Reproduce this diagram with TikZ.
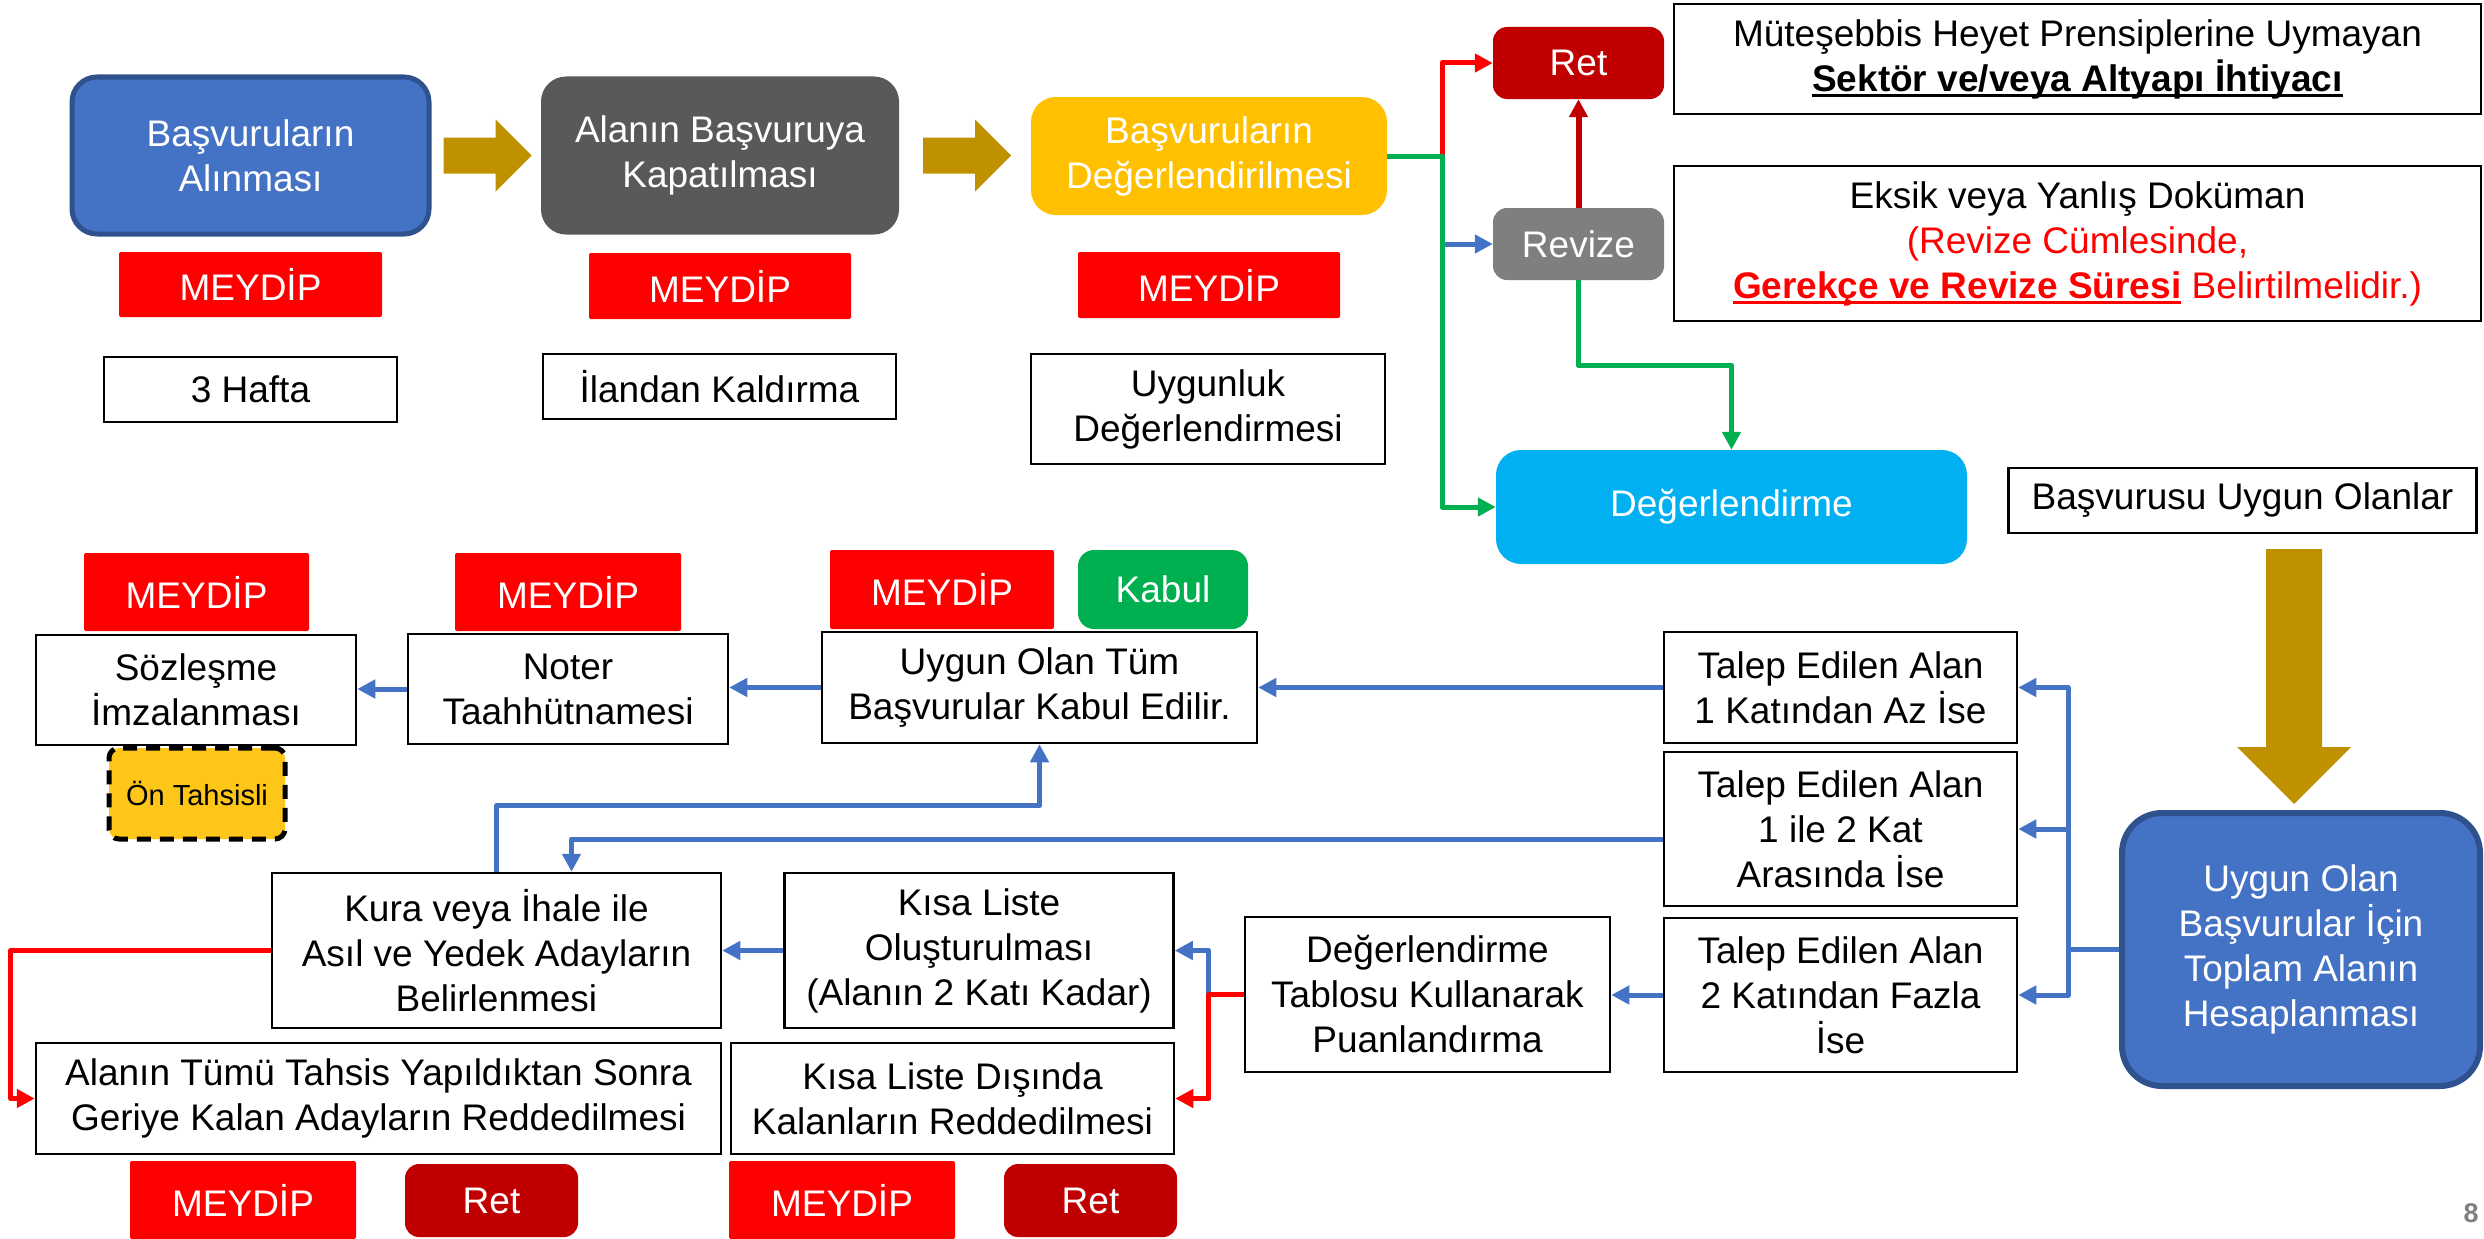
\documentclass[tikz,border=0pt]{standalone}
\usepackage{fontspec}
\setmainfont{Liberation Sans}
\usetikzlibrary{arrows.meta,calc}
\definecolor{pblue}{HTML}{4472C4}
\definecolor{pblueborder}{HTML}{2F528F}
\definecolor{pdgray}{HTML}{595959}
\definecolor{pgold}{HTML}{FFC000}
\definecolor{pred}{HTML}{FF0000}
\definecolor{pdred}{HTML}{C00000}
\definecolor{pgray}{HTML}{7F7F7F}
\definecolor{pcyan}{HTML}{00B0F0}
\definecolor{pgreen}{HTML}{00B050}
\definecolor{parrow}{HTML}{BF9000}
\definecolor{pyellow}{HTML}{FFC61A}
\newcommand\myul[1]{\setbox0\hbox{#1}\rlap{\rule[-6pt]{\wd0}{3pt}}\box0\relax}
\tikzset{
  sz/.style 2 args={minimum width=#1pt, minimum height=#2pt},
  base/.style={inner sep=0pt, align=center, font=\fontsize{37}{45}\selectfont},
  wbox/.style={base, draw=black, line width=2.5pt, fill=white},
  bigblue/.style={base, fill=pblue, draw=pblueborder, line width=5pt, rounded corners=25pt, text=white},
  darkbox/.style={base, fill=pdgray, rounded corners=25pt, text=white},
  goldbox/.style={base, fill=pgold, rounded corners=25pt, text=white},
  meydip/.style={base, fill=pred, rounded corners=2pt, text=white},
  retbox/.style={base, fill=pdred, rounded corners=14pt, text=white},
  revbox/.style={base, fill=pgray, rounded corners=14pt, text=white},
  kabulbox/.style={base, fill=pgreen, rounded corners=16pt, text=white},
  cyanbox/.style={base, fill=pcyan, rounded corners=25pt, text=white},
  onbox/.style={inner sep=0pt, align=center, font=\fontsize{29}{34}\selectfont, fill=pyellow, draw=black, line width=5pt, dash pattern=on 14pt off 9pt, rounded corners=10pt},
  arr/.style={-{Triangle[length=18pt,width=18pt]}},
  bl/.style={draw=pblue, line width=5pt, line join=round},
  gr/.style={draw=pgreen, line width=5pt, line join=round},
  rd/.style={draw=pred, line width=5pt, line join=round},
  drd/.style={draw=pdred, line width=6pt},
  blockarrow/.style={fill=parrow}
}
\begin{document}
\begin{tikzpicture}[x=1pt,y=-1pt]
\fill[white] (0,0) rectangle (2484,1239);
\useasboundingbox (0,0) rectangle (2484,1239);

% ---------- top row ----------
\node[bigblue, sz={357}{157}] (b1) at (250.5,155.5) {Başvuruların\\Alınması};
\node[darkbox, sz={358}{158}] (b2) at (720,155.5) {Alanın Başvuruya\\Kapatılması};
\node[goldbox, sz={356}{118}] (b3) at (1209,156) {Başvuruların\\Değerlendirilmesi};

\node[meydip, sz={263}{65}] (m1) at (250.5,284.5) {MEYDİP};
\node[meydip, sz={262}{66}] (m2) at (720,286) {MEYDİP};
\node[meydip, sz={262}{66}] (m3) at (1209,285) {MEYDİP};

\node[wbox, sz={293}{65}] (t1) at (250.5,389.5) {3 Hafta};
\node[wbox, sz={353}{65}] (t2) at (719.5,386.5) {İlandan Kaldırma};
\node[wbox, sz={354}{110}] (t3) at (1208,409) {Uygunluk\\Değerlendirmesi};

% gold block arrows
\fill[blockarrow] ($(b1.east)+(12,0)$) ++(0,-18) -- ++(52,0) -- ++(0,-18) -- ++(36,36) -- ++(-36,36) -- ++(0,-18) -- ++(-52,0) -- cycle;
\fill[blockarrow] ($(b2.east)+(24,0)$) ++(0,-18) -- ++(52,0) -- ++(0,-18) -- ++(36,36) -- ++(-36,36) -- ++(0,-18) -- ++(-52,0) -- cycle;

% ---------- right upper ----------
\node[retbox, sz={171}{72}] (ret) at (1578.5,63) {Ret};
\node[revbox, sz={171}{72}] (rev) at (1578.5,244) {Revize};
\node[wbox, sz={807}{110}] (mut) at (2077.5,59) {Müteşebbis Heyet Prensiplerine Uymayan\\ \myul{\bfseries Sektör ve/veya Altyapı İhtiyacı}};
\node[wbox, sz={807}{155}] (eks) at (2077.5,243.5) {Eksik veya Yanlış Doküman\\ \textcolor{pred}{(Revize Cümlesinde,}\\ \textcolor{pred}{\myul{\bfseries Gerekçe ve Revize Süresi} Belirtilmelidir.)}};
\node[cyanbox, sz={471}{114}] (deg) at (1731.5,507) {Değerlendirme};
\node[wbox, sz={468}{65}] (buo) at (2242.5,500.5) {Başvurusu Uygun Olanlar};

\draw[rd,arr] (b3.east) -- ++(55,0) |- (ret.west);
\draw[bl,arr] (b3.east) -- ++(55,0) |- (rev.west);
\draw[gr,arr] (b3.east) -- ++(55,0) |- (deg.west);
\draw[drd,arr] (rev.north) -- (ret.south);
\draw[gr,arr] (rev.south) -- ++(0,85) -| (deg.north);

% big down arrow
\fill[blockarrow] (2294,549) -- ++(-28,0) -- ++(0,198) -- ++(-29,0) -- ++(57,57) -- ++(57,-57) -- ++(-29,0) -- ++(0,-198) -- cycle;

% ---------- lower part ----------
\node[bigblue, line width=6pt, rounded corners=40pt, sz={358}{273}] (top) at (2301,949.5) {Uygun Olan\\Başvurular İçin\\Toplam Alanın\\Hesaplanması};
\node[wbox, sz={353}{111}] (tal1) at (1840.5,687.5) {Talep Edilen Alan\\1 Katından Az İse};
\node[wbox, sz={353}{154}] (tal2) at (1840.5,829) {Talep Edilen Alan\\1 ile 2 Kat\\Arasında İse};
\node[wbox, sz={353}{154}] (tal3) at (1840.5,995) {Talep Edilen Alan\\2 Katından Fazla\\İse};
\node[wbox, sz={365}{155}] (dtk) at (1427.5,994.5) {Değerlendirme\\Tablosu Kullanarak\\Puanlandırma};
\node[wbox, sz={389}{155}] (kl) at (979,950.5) {Kısa Liste\\Oluşturulması\\(Alanın 2 Katı Kadar)};
\node[wbox, sz={449}{155}] (kura) at (496.5,950.5) {Kura veya İhale ile\\Asıl ve Yedek Adayların\\Belirlenmesi};
\node[wbox, sz={443}{111}] (kld) at (952.5,1098.5) {Kısa Liste Dışında\\Kalanların Reddedilmesi};
\node[wbox, sz={685}{111}] (atu) at (378.5,1098.5) {Alanın Tümü Tahsis Yapıldıktan Sonra\\Geriye Kalan Adayların Reddedilmesi};
\node[wbox, sz={435}{111}] (uot) at (1039.5,687.5) {Uygun Olan Tüm\\Başvurular Kabul Edilir.};
\node[wbox, sz={320}{110}] (noter) at (568,689) {Noter\\Taahhütnamesi};
\node[wbox, sz={320}{110}] (soz) at (196,690) {Sözleşme\\İmzalanması};
\node[onbox, sz={176}{91}] (on) at (197,793.5) {Ön Tahsisli};

\node[meydip, sz={225}{78}] (m4) at (196.5,592) {MEYDİP};
\node[meydip, sz={226}{78}] (m5) at (568,592) {MEYDİP};
\node[meydip, sz={224}{79}] (m6) at (942,589.5) {MEYDİP};
\node[kabulbox, sz={170}{79}] (kabul) at (1163,589.5) {Kabul};

\node[meydip, sz={226}{78}] (m7) at (243,1200) {MEYDİP};
\node[retbox, sz={173}{73}] (r1) at (491.5,1200.5) {Ret};
\node[meydip, sz={226}{78}] (m8) at (842,1200) {MEYDİP};
\node[retbox, sz={173}{73}] (r2) at (1090.5,1200.5) {Ret};

\node[inner sep=0pt, font=\fontsize{27}{30}\selectfont\bfseries, text=pgray] (pg) at (2471,1213) {8};

% connectors
\draw[bl] (top.west) -- ++(-51,0) coordinate (tr);
\draw[bl,arr] (tr) |- (tal1.east);
\draw[bl,arr] (tr) |- (tal2.east);
\draw[bl,arr] (tr) |- (tal3.east);
\draw[bl,arr] (tal1.west) -- (tal1.west -| uot.east);
\draw[bl,arr] (uot.west) -- (uot.west -| noter.east);
\draw[bl,arr] (noter.west) -- (noter.west -| soz.east);
\draw[bl,arr] ($(tal2.west)+(0,10)$) -| ($(kura.north)+(75,0)$);
\draw[bl,arr] (kura.north) -- ++(0,-66) -| (uot.south);
\draw[bl,arr] (tal3.west) -- (tal3.west -| dtk.east);
\draw[bl,arr] (dtk.west) -- ++(-35,0) |- (kl.east);
\draw[rd,arr] (dtk.west) -- ++(-35,0) |- (kld.east);
\draw[bl,arr] (kl.west) -- (kura.east);
\draw[rd,arr] (kura.west) -- ++(-260,0) |- (atu.west);
\end{tikzpicture}
\end{document}
